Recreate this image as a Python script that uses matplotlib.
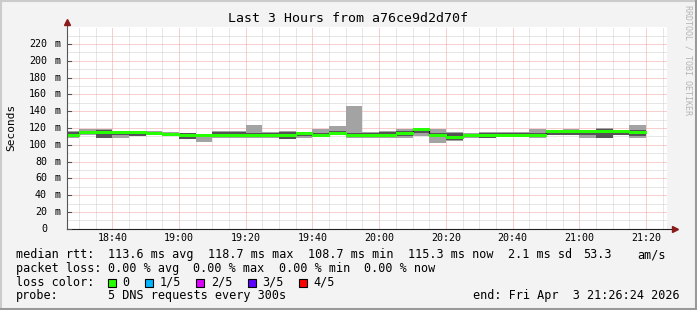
import numpy as np
import pandas as pd
import matplotlib
matplotlib.use("Agg")
import matplotlib.pyplot as plt
import matplotlib.dates as mdates
import matplotlib.transforms as mtransforms
from matplotlib.patches import Rectangle
from matplotlib.lines import Line2D

# 5-minute steps, each value belongs to the step ending at that time
step_end = pd.date_range("2026-04-03 18:30", "2026-04-03 21:20", freq="5min")
end_time = pd.Timestamp("2026-04-03 21:26:24")

# ping values in ms, sorted: lowest, 2nd, median, 4th, highest
ping_min = [107.7, 111.3, 108.0, 107.7, 110.5, 111.5, 110.0, 106.5, 103.6, 107.7,
            107.7, 107.7, 107.7, 107.0, 107.7, 109.0, 111.3, 107.7, 108.0, 107.7,
            107.7, 110.5, 102.4, 104.4, 107.7, 107.7, 110.5, 110.5, 107.7, 111.3,
            111.3, 107.7, 107.7, 112.0, 107.7]
ping_2 = [111.0, 114.5, 108.5, 112.0, 111.0, 111.8, 111.0, 106.8, 110.0, 110.5,
          110.0, 110.0, 110.5, 107.3, 111.0, 109.3, 112.0, 110.0, 110.5, 110.0,
          111.0, 114.6, 110.0, 106.0, 110.0, 107.9, 111.0, 111.0, 110.0, 111.5,
          111.5, 111.3, 108.0, 112.2, 110.0]
median = [112.1, 115.8, 115.8, 115.8, 115.4, 114.1, 112.3, 112.1, 111.7, 112.1,
          112.0, 112.0, 112.0, 112.0, 114.5, 112.0, 114.5, 112.2, 112.0, 112.0,
          113.5, 118.7, 111.3, 108.7, 112.0, 112.0, 112.0, 112.0, 112.0, 116.4,
          116.4, 116.4, 116.4, 116.4, 115.3]
ping_4 = [115.8, 117.0, 117.5, 116.0, 115.8, 115.0, 114.0, 113.5, 112.3, 115.8,
          115.8, 114.0, 113.5, 115.8, 115.0, 113.5, 116.0, 114.0, 113.5, 115.8,
          116.4, 118.7, 114.0, 114.5, 113.0, 114.5, 113.5, 113.5, 114.0, 116.8,
          117.4, 116.8, 119.4, 116.8, 118.0]
ping_max = [116.0, 119.0, 119.0, 116.5, 116.0, 116.0, 115.5, 114.5, 112.8, 116.0,
            117.0, 123.4, 115.4, 116.0, 115.5, 119.4, 121.8, 146.5, 115.3, 116.0,
            119.4, 119.0, 119.4, 114.8, 114.5, 114.7, 115.3, 115.3, 119.4, 117.0,
            119.4, 117.0, 119.6, 117.0, 123.4]
loss = [0] * 35

loss_labels = ["0", "1/5", "2/5", "3/5", "4/5"]
loss_colors = ["#26ff00", "#00b8ff", "#dd00ff", "#5e00ff", "#ff0000"]

y_ticks = [0, 20, 40, 60, 80, 100, 120, 140, 160, 180, 200, 220]

mono = "DejaVu Sans Mono"
W, H = 697, 310

fig = plt.figure(figsize=(W / 100, H / 100), dpi=100, facecolor="#f3f3f3")
ax = fig.add_axes([67 / W, 1 - 228.7 / H, 600.3 / W, 201.4 / H])
ax.set_facecolor("white")

x_end = mdates.date2num(step_end)
x_start = x_end - 5 / 1440
width = 5 / 1440

ax.set_xlim(mdates.date2num(end_time - pd.Timedelta(hours=3)), mdates.date2num(end_time))
ax.set_ylim(0, 240)

# grid: minor every 5 min / 10 ms, major every 20 min / 20 ms, dotted
ax.xaxis.set_major_locator(mdates.MinuteLocator(byminute=[0, 20, 40]))
ax.xaxis.set_minor_locator(mdates.MinuteLocator(byminute=range(0, 60, 5)))
ax.set_yticks(y_ticks)
ax.set_yticks(np.arange(10, 240, 20), minor=True)
ax.grid(which="minor", color="#cfcfcf", linestyle=(0, (1, 1)), linewidth=0.72, snap=True)
ax.grid(which="major", color="#f0a0a0", linestyle=(0, (1, 1)), linewidth=0.72, snap=True)
ax.set_axisbelow(True)
ax.tick_params(which="both", length=0, labelbottom=False, labelleft=False)
for s in ax.spines.values():
    s.set_visible(False)

# smoke
lo = np.array(ping_min)
hi = np.array(ping_max)
ax.bar(x_start, hi - lo, bottom=lo, width=width, align="edge", color="#a3a3a3",
       linewidth=0, antialiased=False, zorder=2)
p2 = np.array(ping_2)
p4 = np.array(ping_4)
ax.bar(x_start, p4 - p2, bottom=p2, width=width, align="edge", color="#545454",
       linewidth=0, antialiased=False, zorder=3)

# median: thin dark stairs, then loss-coloured segments on top
edges = np.append(x_start, x_end[-1])
ax.stairs(median, edges, baseline=None, color="#202020", linewidth=0.9, zorder=4)
ax.hlines(median, x_start, x_end, colors=[loss_colors[l] for l in loss], linewidth=1.8,
          antialiased=False, zorder=5)

# axes with arrows
ax.plot([0, 1.012], [0, 0], transform=ax.transAxes, color="#202020", lw=0.8, clip_on=False, zorder=6)
ax.plot([0, 0], [0, 1.02], transform=ax.transAxes, color="#555555", lw=0.8, clip_on=False, zorder=6)
ax.plot([1.012], [0], transform=ax.transAxes, marker=">", color="#8b1a1a", ms=4, clip_on=False, zorder=7)
ax.plot([0], [1.025], transform=ax.transAxes, marker="^", color="#8b1a1a", ms=4, clip_on=False, zorder=7)

# y tick labels
ty = mtransforms.blended_transform_factory(fig.transFigure, ax.transData)
for v in y_ticks:
    ax.text(47 / W, v, str(v), transform=ty, ha="right", va="center", fontsize=7.2, family=mono)
    if v > 0:
        ax.text(55 / W, v, "m", transform=ty, ha="left", va="center", fontsize=7.2, family=mono)
    ax.plot([0, 0.006], [v, v], transform=mtransforms.blended_transform_factory(ax.transAxes, ax.transData),
            color="#555555", lw=0.8, clip_on=False, zorder=6)

# x tick labels
tx = mtransforms.blended_transform_factory(ax.transData, fig.transFigure)
lim = ax.get_xlim()
for t in ax.get_xticks():
    if lim[0] <= t <= lim[1]:
        ax.text(t, 1 - 237.7 / H, mdates.num2date(t).strftime("%H:%M"), transform=tx,
                ha="center", va="center", fontsize=7.2, family=mono)

fig.text(347.5 / W, 1 - 19 / H, "Last 3 Hours from a76ce9d2d70f", ha="center", va="center",
         fontsize=9.5, family=mono)
fig.text(11 / W, 1 - 127 / H, "Seconds", rotation=90, ha="center", va="center", fontsize=8, family=mono)
fig.text(688 / W, 1 - 60 / H, "RRDTOOL / TOBI OETIKER", rotation=-90, ha="center", va="center",
         fontsize=6, family=mono, color="#b4b4b4")

# legend rows
fs = 8.5
def row(y, items):
    for x, s in items:
        fig.text(x / W, 1 - y / H, s, ha="left", va="center", fontsize=fs, family=mono)

row(254.7, [(16, "median rtt:"), (108, "113.6 ms avg"), (208, "118.7 ms max"), (308, "108.7 ms min"),
            (408, "115.3 ms now"), (508, "2.1 ms sd"), (583, "53.3"), (637, "am/s")])
row(268.3, [(16, "packet loss:"), (108, "0.00 % avg"), (193, "0.00 % max"), (279, "0.00 % min"),
            (364, "0.00 % now")])
row(282.3, [(16, "loss color:")])
box_x = [108, 145.3, 196.4, 247.6, 298.7]
for bx, lab, col in zip(box_x, loss_labels, loss_colors):
    fig.add_artist(Rectangle((bx / W, 1 - 286.5 / H), 8 / W, 8 / H, transform=fig.transFigure,
                             facecolor=col, edgecolor="black", linewidth=0.8))
    fig.text((bx + 14.5) / W, 1 - 282.3 / H, lab, ha="left", va="center", fontsize=fs, family=mono)
row(296, [(16, "probe:"), (108, "5 DNS requests every 300s")])
fig.text(680 / W, 1 - 296 / H, "end: Fri Apr  3 21:26:24 2026", ha="right", va="center", fontsize=fs, family=mono)

# 3d frame around the image
fig.add_artist(Line2D([0, 1], [1 - 1 / H, 1 - 1 / H], transform=fig.transFigure, color="#cbcbcb", lw=1.5))
fig.add_artist(Line2D([1 / W, 1 / W], [0, 1], transform=fig.transFigure, color="#cbcbcb", lw=1.5))
fig.add_artist(Line2D([0, 1], [1 / H, 1 / H], transform=fig.transFigure, color="#999999", lw=1.5))
fig.add_artist(Line2D([1 - 1 / W, 1 - 1 / W], [0, 1], transform=fig.transFigure, color="#999999", lw=1.5))

fig.savefig("out.png", dpi=100, facecolor=fig.get_facecolor())
